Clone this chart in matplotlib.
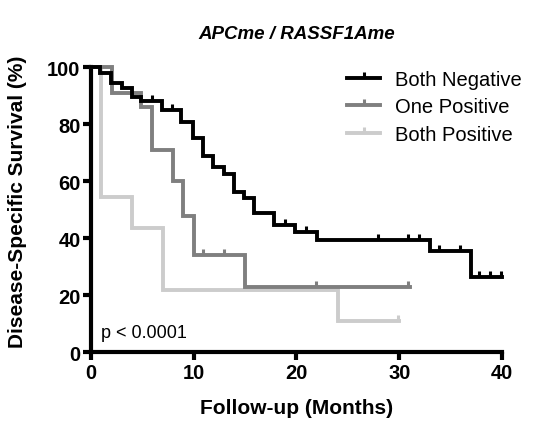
import numpy as np
import matplotlib
matplotlib.use("Agg")
import matplotlib.pyplot as plt
from matplotlib.lines import Line2D

plt.rcParams['font.family'] = ['Liberation Sans', 'DejaVu Sans']

# Kaplan-Meier steps (months, % surviving)
neg_times = [0, 0.9, 1.9, 3.0, 4.0, 4.9, 6.9, 8.8, 9.95, 10.9, 11.9, 12.9, 13.9,
             14.9, 15.9, 17.8, 19.9, 22.0, 33.0, 37.0, 40.0]
neg_surv = [100, 98, 94.4, 92.6, 89.4, 88.2, 85, 80.7, 75, 68.8, 64.8, 62.5, 56,
            54.2, 48.8, 44.7, 42.3, 39.3, 35.5, 26.5, 26.5]
neg_censor = [5.9, 7.85, 18.9, 20.9, 27.9, 30.9, 31.9, 33.9, 35.9, 37.8, 38.8, 39.9]

one_times = [0, 2.0, 4.9, 5.9, 8.0, 9.0, 10.0, 15.0, 31.0]
one_surv = [100, 90.9, 86, 71, 60, 47.7, 34.1, 22.8, 22.8]
one_censor = [10.9, 12.9, 21.9, 30.9]

pos_times = [0, 1.0, 4.0, 7.0, 24.0, 30.0]
pos_surv = [100, 54.5, 43.6, 21.8, 10.9, 10.9]
pos_censor = [29.9]

labels = ['Both Negative', 'One Positive', 'Both Positive']
colors = ['#000000', '#7f7f7f', '#cccccc']

LW = 2.8


def surv_at(times, surv, t):
    idx = np.searchsorted(times, t, side='right') - 1
    return np.asarray(surv)[idx]


fig = plt.figure(figsize=(5.33, 4.27), dpi=100)
ax = fig.add_axes([0.1707, 0.173, 0.7711, 0.6677])

groups = [(pos_times, pos_surv, pos_censor),
          (one_times, one_surv, one_censor),
          (neg_times, neg_surv, neg_censor)]
cols = colors[::-1]
for z, ((t, s, c), col) in enumerate(zip(groups, cols)):
    ax.step(t, s, where='post', color=col, lw=LW, clip_on=False,
            zorder=2 + z, solid_joinstyle='miter')
    ax.plot(c, surv_at(t, s, c), linestyle='none', marker=2, ms=4.5, mew=2.2,
            color=col, clip_on=False, zorder=2 + z)

ax.set_xlim(0, 40)
ax.set_ylim(0, 100)
ax.set_xticks([0, 10, 20, 30, 40])
ax.set_yticks([0, 20, 40, 60, 80, 100])
for side in ['top', 'right']:
    ax.spines[side].set_visible(False)
for side in ['left', 'bottom']:
    ax.spines[side].set_linewidth(3)
ax.tick_params(width=3, length=6, labelsize=14.5, pad=1.5)
for lab in ax.get_xticklabels() + ax.get_yticklabels():
    lab.set_fontweight('bold')

ax.set_xlabel('Follow-up (Months)', fontsize=15, fontweight='bold')
ax.xaxis.set_label_coords(0.5, -0.16)
ax.set_ylabel('Disease-Specific Survival (%)', fontsize=15, fontweight='bold')
ax.yaxis.set_label_coords(-0.155, 0.53)
ax.set_title('APCme / RASSF1Ame', fontsize=13.5, fontweight='bold',
             style='italic', pad=21)

ax.text(1.0, 7, 'p < 0.0001', fontsize=13, va='center', ha='left')

handles = [Line2D([], [], color=c, lw=LW, marker=2, ms=4.5, mew=2.2)
           for c in colors]
ax.legend(handles, labels, loc='upper left',
          bbox_to_anchor=(347 / 533, 1 - 71 / 427),
          bbox_transform=fig.transFigure, frameon=False, fontsize=14.5,
          handlelength=1.65, handletextpad=0.75, labelspacing=0.42,
          borderpad=0, borderaxespad=0)

fig.savefig('out.png', dpi=100)
